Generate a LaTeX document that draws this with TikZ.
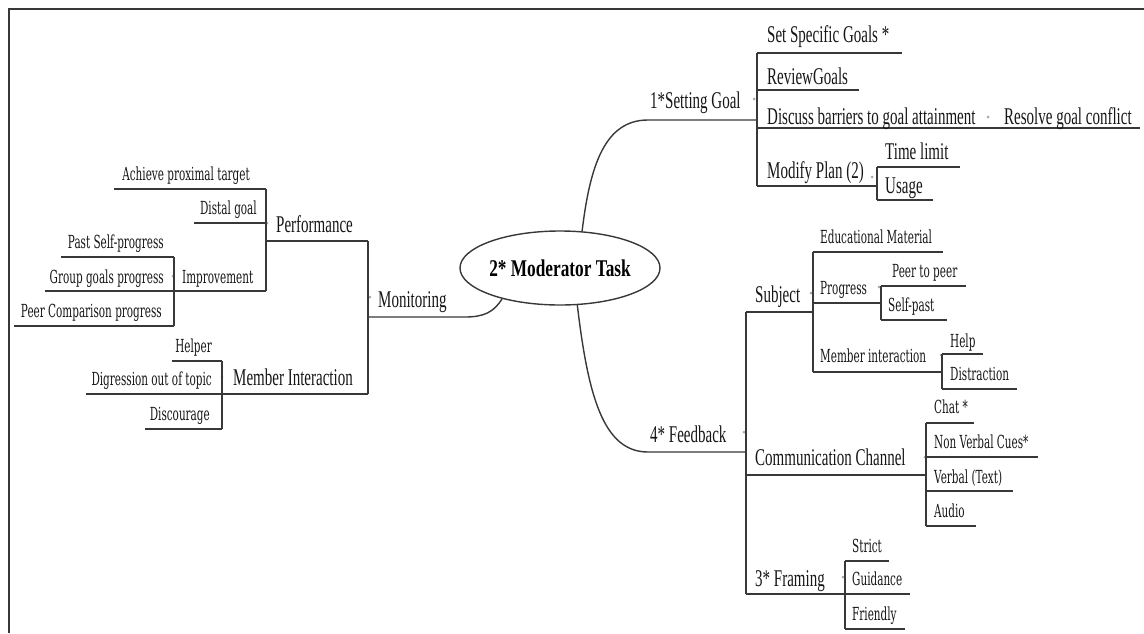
\documentclass[tikz,border=0pt]{standalone}
\usepackage{fontspec}
\usetikzlibrary{shapes.geometric}
\newfontfamily\tmsfont[FakeStretch=0.625]{Liberation Serif}
\newfontfamily\tmsbfont[FakeStretch=0.72]{Liberation Serif}
\newfontfamily\slabfont[FakeStretch=0.58]{DejaVu Serif}
\definecolor{linec}{HTML}{383838}
\definecolor{textc}{HTML}{161616}
\definecolor{dotc}{HTML}{A8A8A8}

% leaf: name, style, x0, x1, y of underline, text x, text baseline, text
\newcommand\mmleaf[8]{%
  \coordinate (#1-a) at (#3,#5);
  \coordinate (#1-b) at (#4,#5);
  \draw[conn] (#1-a) -- (#1-b);
  \node[#2] (#1) at (#6,#7) {#8};}
\newcommand\mmdot[1]{\fill[dotc] (#1) circle (1.5);}

\begin{document}
\begin{tikzpicture}[x=1pt,y=-1pt,
  conn/.style={draw=linec,line width=1.4pt},
  txt/.style={inner sep=0pt,text=textc},
  rt/.style={txt,anchor=base west,font=\tmsfont\fontsize{24}{26}\selectfont},
  lt/.style={txt,anchor=base east,font=\tmsfont\fontsize{24}{26}\selectfont},
  rs/.style={txt,anchor=base west,font=\slabfont\fontsize{18}{20}\selectfont},
  ls/.style={txt,anchor=base east,font=\slabfont\fontsize{18}{20}\selectfont},
  hub/.style={ellipse,draw=linec,line width=1.4pt,minimum width=166pt,minimum height=74pt,inner sep=0pt,
    text=black,font=\tmsbfont\bfseries\fontsize{24}{26}\selectfont}]
\useasboundingbox (0,0) rectangle (1144,633);

% frame
\coordinate (fr-tl) at (9,9);
\coordinate (fr-tr) at (1144,9);
\coordinate (fr-bl) at (9,633);
\draw[draw=linec,line width=1.6pt] (fr-bl) -- (fr-tl) -- (fr-tr);

% central topic
\node[hub] (ctr) at (560,268) {2* Moderator Task};

% ---------- 1* Setting Goal ----------
\coordinate (sg-k) at (648,120);
\coordinate (sg-bus) at (757,120);
\node[rt] (setgoal) at (650,108) {1*Setting Goal};
\draw[conn] (ctr.59) .. controls (590,165) and (605,120) .. (sg-k) -- (sg-bus);
\mmdot{754,99}
\mmleaf{ss}{rt}{757}{902}{53}{767}{42}{Set Specific Goals *}
\mmleaf{rg}{rt}{757}{859}{90}{767}{84}{ReviewGoals}
\mmleaf{db}{rt}{757}{992}{128}{767}{124}{Discuss barriers to goal attainment}
\mmleaf{rgc}{rt}{992}{1140}{128}{1004}{124}{Resolve goal conflict}
\mmdot{988,117}
\mmleaf{mp}{rt}{757}{877}{186}{767}{178}{Modify Plan (2)}
\mmdot{872,177}
\mmleaf{tl}{rt}{877}{960}{167}{885}{159}{Time limit}
\mmleaf{us}{rt}{877}{933}{200}{885}{193}{Usage}
\draw[conn] (ss-a) -- (mp-a);
\draw[conn] (tl-a) -- (us-a);

% ---------- 4* Feedback ----------
\coordinate (fb-k) at (648,452);
\coordinate (fb-bus) at (746,452);
\node[rt] (feedback) at (650,442) {4* Feedback};
\draw[conn] (ctr.-65) .. controls (588,395) and (603,452) .. (fb-k) -- (fb-bus);
\mmdot{744,432}
\mmleaf{subj}{rt}{746}{813}{312}{755}{302}{Subject}
\mmdot{811,293}
\mmleaf{cc}{rt}{746}{926}{475}{755}{465}{Communication Channel}
\mmdot{925,457}
\mmleaf{frm}{rt}{746}{845}{594}{755}{586}{3* Framing}
\mmdot{843,577}
\draw[conn] (subj-a) -- (frm-a);

% subject
\mmleaf{em}{rs}{813}{943}{252}{820}{243}{Educational Material}
\mmleaf{pg}{rs}{813}{881}{303}{820}{294}{Progress}
\mmdot{879,287}
\mmleaf{pp}{rs}{881}{966}{286}{892}{277}{Peer to peer}
\mmleaf{sp}{rs}{881}{947}{320}{888}{311}{Self-past}
\mmleaf{mi}{rs}{813}{942}{372}{820}{362}{Member interaction}
\mmdot{941,355}
\mmleaf{hp}{rs}{942}{983}{354}{950}{347}{Help}
\mmleaf{ds}{rs}{942}{1017}{389}{950}{380}{Distraction}
\draw[conn] (em-a) -- (mi-a);
\draw[conn] (pp-a) -- (sp-a);
\draw[conn] (hp-a) -- (ds-a);

% communication channel
\mmleaf{ch}{rs}{926}{974}{423}{934}{413}{Chat *}
\mmleaf{nv}{rs}{926}{1038}{457}{934}{448}{Non Verbal Cues*}
\mmleaf{vt}{rs}{926}{1013}{491}{934}{483}{Verbal (Text)}
\mmleaf{au}{rs}{926}{976}{526}{934}{517}{Audio}
\draw[conn] (ch-a) -- (au-a);

% framing
\mmleaf{st}{rs}{845}{889}{561}{852}{552}{Strict}
\mmleaf{gd}{rs}{845}{910}{594}{852}{585}{Guidance}
\mmleaf{fl}{rs}{845}{905}{629}{852}{620}{Friendly}
\draw[conn] (st-a) -- (fl-a);

% ---------- Monitoring ----------
\coordinate (mo-k) at (465,317);
\coordinate (mo-bus) at (368,317);
\node[rt] (monitor) at (378,307) {Monitoring};
\draw[conn] (ctr.208) .. controls (494,312) and (484,317) .. (mo-k) -- (mo-bus);
\mmdot{370,297}
\mmleaf{perf}{rt}{266}{368}{241}{276}{232}{Performance}
\mmdot{267,223}
\mmleaf{mint}{rt}{222}{368}{394}{233}{385}{Member Interaction}
\mmdot{222,377}
\draw[conn] (perf-b) -- (mint-b);

% performance
\mmleaf{apt}{ls}{114}{266}{189}{250}{180}{Achieve proximal target}
\mmleaf{dg}{ls}{194}{266}{223}{257}{214}{Distal goal}
\mmleaf{imp}{rs}{174}{266}{291}{182}{283}{Improvement}
\mmdot{173,276}
\draw[conn] (apt-b) -- (imp-b);

% improvement
\mmleaf{ps}{ls}{61}{174}{257}{164}{248}{Past Self-progress}
\mmleaf{gg}{ls}{45}{174}{291}{164}{283}{Group goals progress}
\mmleaf{pc}{ls}{14}{174}{326}{162}{317}{Peer Comparison progress}
\draw[conn] (ps-b) -- (pc-b);

% member interaction
\mmleaf{hl}{ls}{172}{222}{361}{212}{352}{Helper}
\mmleaf{dt}{ls}{86}{222}{394}{212}{385}{Digression out of topic}
\mmleaf{dc}{ls}{145}{222}{429}{210}{420}{Discourage}
\draw[conn] (hl-b) -- (dc-b);
\end{tikzpicture}
\end{document}
